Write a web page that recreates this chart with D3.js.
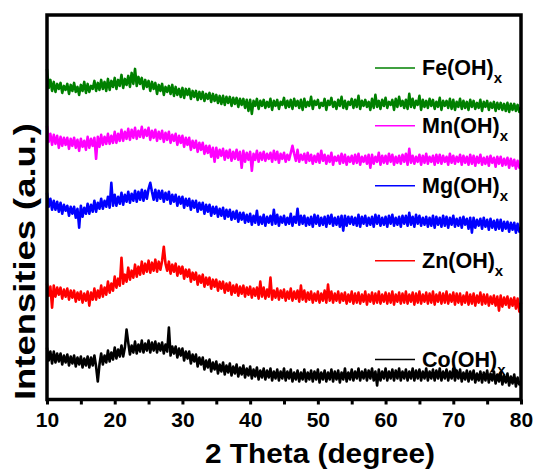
<!DOCTYPE html>
<html lang="en">
<head>
    <meta charset="UTF-8">
    <script src="https://d3js.org/d3.v7.min.js"></script>
    <title>XRD patterns</title>
    <style>
    body { margin: 0; background: #fff; }
    text { font-family: Arial, "Liberation Sans", sans-serif; font-weight: bold; }
    .xaxis .domain { stroke: none; }
    .xaxis line { stroke: #000; stroke-width: 3; }
    </style>
</head>
<body>
    <svg id="xrd" width="539" height="475"></svg>
    <script>
        // 2 theta scan, 10 to 80 degree, one reading every 0.25 degree
        const thetaStart = 10, thetaStep = 0.25;
        const sampleNames = ['Fe(OH)', 'Mn(OH)', 'Mg(OH)', 'Zn(OH)', 'Co(OH)'];
        const sampleColors = ['#008000', '#ff00ff', '#0000ff', '#ff0000', '#000000'];
        const xTicks = [10, 15, 20, 25, 30, 35, 40, 45, 50, 55, 60, 65, 70, 75, 80];

        // intensities (a.u., curves already stacked)
        const feData = [331,312,320,309, 318,308,316,311, 317,307,314,310, 316,306,315,309, 317,308,313,305,
            315,309,318,307, 316,308,314,311, 319,309,317,310, 320,311,318,309, 321,310,319,313,
            322,311,320,314, 325,312,321,315, 324,313,327,316, 331,314,323,316, 322,311,320,313,
            319,309,318,311, 317,306,315,309, 316,305,313,308, 314,306,315,304, 313,305,311,303,
            312,302,311,305, 311,301,309,303, 309,300,308,301, 308,299,306,301, 307,298,306,299,
            305,297,304,296, 304,295,303,297, 303,294,302,296, 302,293,301,295, 301,292,300,289,
            300,286,299,294, 301,291,299,294, 300,292,298,293, 301,290,299,294, 300,291,298,295,
            302,292,299,293, 300,291,301,294, 299,292,300,290, 301,293,298,294, 303,291,299,295,
            300,292,297,294, 301,290,299,295, 302,293,298,291, 300,294,303,292, 299,291,298,295,
            301,292,300,293, 304,291,299,294, 300,293,298,290, 301,292,305,293, 299,291,300,294,
            302,292,298,295, 300,290,301,293, 303,294,299,292, 300,291,306,293, 301,292,299,295,
            304,290,300,293, 299,292,301,294, 300,291,298,293, 302,290,299,294, 299,292,301,291,
            300,290,298,293, 301,291,299,292, 298,290,300,293, 299,291,297,292, 300,289,298,293,
            299,290,297,292, 298,289,297,291, 297,290,296,289, 297,288,296,290, 296,289,295,288, 292];

        const mnData = [274,258,266,255, 265,256,264,252, 263,254,262,255, 262,251,261,254, 262,252,260,249,
            261,253,259,250, 263,252,261,254, 262,241,263,253, 265,255,263,256, 266,256,264,257,
            268,257,266,259, 270,259,268,261, 271,260,270,262, 272,261,269,263, 273,262,270,264,
            272,260,269,262, 270,259,268,261, 269,258,267,260, 268,257,265,259, 266,255,264,257,
            264,253,262,255, 262,250,259,252, 259,248,257,250, 257,246,254,247, 254,243,252,238,
            252,242,250,244, 251,240,249,242, 250,239,248,241, 250,240,248,232, 249,238,247,240,
            248,229,246,240, 249,238,247,240, 248,239,246,241, 247,238,249,240, 248,237,246,241,
            247,238,245,240, 247,254,246,239, 250,238,245,240, 246,237,247,239, 245,236,244,238,
            246,237,249,239, 245,236,244,238, 247,235,243,239, 244,236,246,237, 245,235,243,238,
            244,236,245,237, 246,235,243,238, 244,236,245,232, 245,236,243,238, 247,235,244,237,
            244,236,246,238, 245,235,243,237, 244,236,245,238, 246,235,251,237, 244,236,243,238,
            245,235,244,237, 246,236,243,238, 244,235,245,237, 245,236,244,238, 243,235,246,237,
            244,236,243,238, 245,235,244,237, 243,235,245,236, 244,234,243,237, 245,235,242,236,
            243,234,244,237, 242,233,243,236, 243,234,241,235, 242,232,241,234, 240,231,239,232, 235];

        const mgData = [207,193,201,190, 199,190,198,188, 197,186,195,189, 194,184,193,186, 193,182,191,172,
            194,183,192,186, 196,186,195,188, 199,188,197,191, 201,191,199,193, 203,192,217,194,
            205,194,203,196, 207,195,205,198, 208,197,206,199, 209,198,208,200, 210,199,209,201,
            211,217,208,200, 210,199,209,201, 209,198,207,200, 208,196,205,198, 205,194,203,196,
            203,192,201,194, 201,190,199,192, 199,188,197,190, 197,186,195,188, 195,184,193,186,
            193,183,191,184, 192,181,190,183, 190,180,188,181, 189,178,187,180, 187,177,185,178,
            186,175,184,177, 189,175,183,176, 185,174,183,177, 184,175,190,176, 185,174,183,177,
            184,175,182,176, 186,174,183,177, 191,175,184,176, 184,174,182,175, 183,173,185,176,
            184,174,182,175, 183,173,184,176, 185,174,182,175, 183,173,184,169, 184,174,183,176,
            183,175,182,174, 185,173,183,176, 184,174,182,175, 183,173,185,176, 184,174,182,175,
            183,173,184,176, 185,174,182,175, 183,173,184,176, 184,174,187,175, 183,173,185,176,
            184,174,182,175, 183,173,182,174, 184,172,183,175, 182,173,184,174, 183,172,182,175,
            184,173,181,174, 182,172,183,175, 181,171,182,167, 182,172,180,174, 181,171,182,173,
            180,170,181,172, 179,170,180,171, 180,169,178,171, 178,168,177,170, 177,167,176,168, 172];

        const znData = [116,104,113,92, 114,103,112,105, 112,101,110,103, 111,100,109,102, 109,98,107,100,
            108,97,106,99, 108,94,107,100, 111,100,109,102, 114,103,112,105, 118,107,116,109,
            123,112,121,114, 142,116,125,118, 132,120,129,122, 135,123,133,125, 138,126,136,128,
            139,127,137,129, 140,128,138,130, 139,153,136,129, 138,126,135,128, 136,124,133,126,
            133,121,130,123, 130,118,127,120, 127,115,124,117, 125,113,122,115, 122,111,120,113,
            120,109,118,111, 118,107,116,109, 117,105,114,107, 115,104,113,106, 114,103,112,105,
            113,102,111,104, 112,101,118,103, 112,101,110,103, 122,100,109,102, 111,100,109,102,
            110,99,108,101, 111,99,108,101, 109,98,114,100, 109,98,107,100, 108,97,106,99,
            108,97,106,99, 109,97,115,99, 108,97,106,99, 108,97,106,99, 107,96,105,98,
            108,96,106,97, 107,96,105,98, 108,95,105,98, 107,96,106,97, 108,96,105,98,
            107,96,106,97, 108,95,105,98, 107,96,106,97, 108,96,105,98, 107,95,106,97,
            108,96,105,98, 107,96,106,97, 108,95,105,98, 107,96,106,97, 108,96,105,98,
            107,95,106,97, 106,95,104,97, 107,95,105,96, 106,94,104,97, 107,95,105,96,
            105,94,103,96, 104,94,103,89, 104,93,102,95, 103,92,101,94, 102,91,101,88, 97];

        const coData = [52,39,48,36, 48,37,46,38, 46,35,44,37, 45,34,43,36, 44,33,42,35,
            43,32,41,34, 43,32,42,34, 44,33,18,35, 46,35,44,37, 49,38,47,40,
            52,41,50,43, 54,43,52,70, 57,45,54,47, 58,46,55,48, 59,47,56,49,
            59,47,57,49, 58,47,56,49, 57,46,55,48, 72,44,53,46, 53,42,51,44,
            51,39,48,41, 48,36,45,38, 45,33,42,35, 42,30,39,32, 40,28,37,30,
            38,26,35,28, 37,25,34,27, 36,24,33,26, 35,23,32,25, 34,22,31,24,
            33,21,30,23, 32,20,29,22, 31,20,29,22, 31,19,28,21, 30,19,28,21,
            31,19,28,21, 30,18,27,20, 29,18,27,20, 30,18,27,20, 29,18,28,20,
            30,17,27,20, 29,18,27,20, 30,18,28,20, 29,17,27,20, 31,18,27,20,
            30,19,28,21, 31,19,28,21, 30,19,29,21, 31,19,28,14, 30,19,28,21,
            31,19,28,21, 30,19,29,21, 31,19,28,21, 30,19,28,21, 31,19,29,21,
            30,19,28,21, 31,19,28,21, 30,19,29,21, 31,19,28,21, 30,19,28,21,
            31,19,29,21, 30,18,27,20, 29,18,28,20, 29,17,26,19, 28,17,27,19,
            29,17,26,19, 28,16,25,18, 27,15,24,17, 26,14,23,16, 25,13,22,15, 18];

        const seriesValues = [feData, mnData, mgData, znData, coData];

        const svg = d3.select('svg#xrd');
        const margins = {top: 15, right: 18, bottom: 75.5, left: 47};
        const width = +svg.attr('width');
        const height = +svg.attr('height');
        const chartWidth = width - margins.left - margins.right;
        const chartHeight = height - margins.top - margins.bottom;

        const xScale = d3.scaleLinear().domain([10, 80]).range([0, chartWidth]);
        const yScale = d3.scaleLinear().domain([0, 385]).range([chartHeight, 0]);

        const chartArea = svg.append('g')
            .attr('transform', `translate(${margins.left},${margins.top})`);

        const line = d3.line()
            .x((d, i) => xScale(thetaStart + i * thetaStep))
            .y(d => yScale(d));

        seriesValues.forEach((vals, k) => {
            chartArea.append('path')
                .datum(vals)
                .attr('d', line)
                .attr('fill', 'none')
                .attr('stroke', sampleColors[k])
                .attr('stroke-width', 2.6)
                .attr('stroke-linejoin', 'round');
        });

        // bottom axis, ticks every 5, labels every 10
        const bottomAxis = d3.axisBottom(xScale)
            .tickValues(xTicks)
            .tickSize(5)
            .tickPadding(8)
            .tickFormat(d => d % 10 === 0 ? d : '');
        const xAxisG = chartArea.append('g')
            .attr('class', 'xaxis')
            .attr('transform', `translate(0,${chartHeight})`)
            .call(bottomAxis);
        xAxisG.selectAll('text')
            .attr('fill', '#000')
            .style('font-size', '21px');

        // frame
        chartArea.append('rect')
            .attr('width', chartWidth)
            .attr('height', chartHeight)
            .attr('fill', 'none')
            .attr('stroke', '#000')
            .attr('stroke-width', 3.5);

        // legend, each entry next to its curve
        const legendAt = [332, 274, 214, 139, 40];
        sampleNames.forEach((name, k) => {
            const ly = yScale(legendAt[k]);
            chartArea.append('line')
                .attr('x1', 328).attr('x2', 368)
                .attr('y1', ly).attr('y2', ly)
                .attr('stroke', sampleColors[k])
                .attr('stroke-width', 1.5);
            const t = chartArea.append('text')
                .attr('x', 375)
                .attr('y', ly + 7)
                .style('font-size', '21.5px')
                .text(name);
            t.append('tspan')
                .attr('dy', 8)
                .style('font-size', '15px')
                .text('x');
        });

        // axis titles
        svg.append('text')
            .attr('x', 320)
            .attr('y', 463)
            .attr('text-anchor', 'middle')
            .attr('textLength', 230)
            .attr('lengthAdjust', 'spacingAndGlyphs')
            .style('font-size', '28px')
            .text('2 Theta (degree)');

        svg.append('text')
            .attr('transform', 'translate(35,261.5) rotate(-90)')
            .attr('text-anchor', 'middle')
            .attr('textLength', 277)
            .attr('lengthAdjust', 'spacingAndGlyphs')
            .style('font-size', '29px')
            .text('Intensities (a.u.)');
    </script>
</body>
</html>
